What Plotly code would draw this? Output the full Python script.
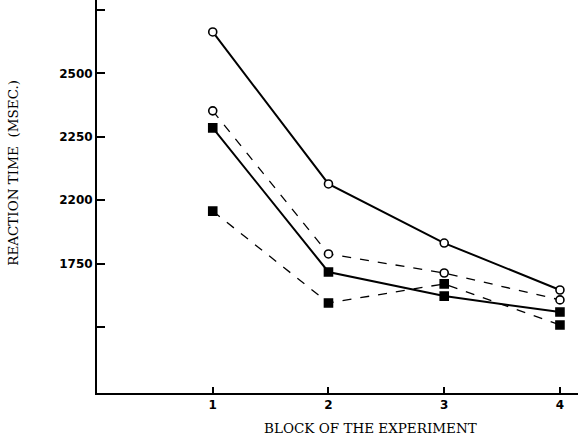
import plotly.graph_objects as go

blocks = [1, 2, 3, 4]
open_solid = [2663, 2064, 1831, 1646]
open_dashed = [2352, 1788, 1713, 1607]
filled_solid = [2285, 1717, 1622, 1559]
filled_dashed = [1957, 1595, 1670, 1508]

y_tickvals = [2750, 2500, 2250, 2000, 1750, 1500]
y_ticktext = ["", "2500", "2250", "2200", "1750", ""]
x_ticktext = ["1", "2", "3", "4"]

fig = go.Figure()

def add(y, dash, filled, width, msize):
    fig.add_trace(go.Scatter(
        x=blocks, y=y, mode="lines+markers",
        line=dict(color="black", width=width, dash=dash),
        marker=dict(symbol="square" if filled else "circle", size=msize,
                    color="black" if filled else "white",
                    line=dict(color="black", width=1.6)),
        showlegend=False))

add(open_solid, "solid", False, 2, 8)
add(open_dashed, "dash", False, 1.3, 8)
add(filled_solid, "solid", True, 2, 8)
add(filled_dashed, "dash", True, 1.3, 8)

title_font = dict(family="DejaVu Serif", size=13.5, color="black")
tick_font = dict(family="DejaVu Sans", size=12, color="black", weight="bold")

fig.update_layout(
    width=578, height=438,
    margin=dict(l=97, r=0, t=0, b=45),
    paper_bgcolor="white", plot_bgcolor="white",
    xaxis=dict(range=[0, 4.156], tickvals=blocks, ticktext=x_ticktext,
               showline=True, linecolor="black", linewidth=2,
               ticks="inside", ticklen=6, tickwidth=2, tickcolor="black",
               showgrid=False, zeroline=False, tickfont=tick_font),
    yaxis=dict(range=[1240, 2789], tickvals=y_tickvals, ticktext=y_ticktext,
               showline=True, linecolor="black", linewidth=2,
               ticks="inside", ticklen=8, tickwidth=2, tickcolor="black",
               showgrid=False, zeroline=False, tickfont=tick_font),
    annotations=[
        dict(text="REACTION TIME  (MSEC.)", xref="paper", yref="paper",
             x=-0.175, y=0.56, textangle=-90, showarrow=False,
             xanchor="center", yanchor="middle", font=title_font),
        dict(text="BLOCK OF THE EXPERIMENT", xref="paper", yref="paper",
             x=0.5676, y=-0.089, showarrow=False,
             xanchor="center", yanchor="middle", font=title_font),
    ],
)

fig.write_html("out.html")
